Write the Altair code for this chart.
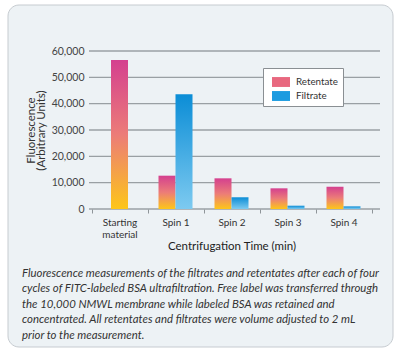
import altair as alt
import pandas as pd

categories = ["Starting material", "Spin 1", "Spin 2", "Spin 3", "Spin 4"]
series = ["Retentate", "Filtrate"]
retentate = [56600, 12650, 11650, 7850, 8450]
filtrate = [None, 43550, 4450, 1250, 1000]
y_ticks = [0, 10000, 20000, 30000, 40000, 50000, 60000]
caption_lines = [
    "Fluorescence measurements of the filtrates and retentates after each of four",
    "cycles of FITC-labeled BSA ultrafiltration. Free label was transferred through",
    "the 10,000 NMWL membrane while labeled BSA was retained and",
    "concentrated. All retentates and filtrates were volume adjusted to 2 mL",
    "prior to the measurement.",
]

rows = []
for c, r, f in zip(categories, retentate, filtrate):
    rows.append({"Category": c, "Series": "Retentate", "Value": r})
    if f is not None:
        rows.append({"Category": c, "Series": "Filtrate", "Value": f})
df = pd.DataFrame(rows)
grid_df = pd.DataFrame({"tick": y_ticks})

FONT = "Lato"
Y_TITLE = ["Fluorescence", "(Arbitrary Units)"]

grad_r = alt.LinearGradient(
    gradient="linear", x1=0, y1=0, x2=0, y2=1,
    stops=[alt.GradientStop(offset=0, color="#d4408f"),
           alt.GradientStop(offset=0.5, color="#ec7c78"),
           alt.GradientStop(offset=1, color="#fdc619")])
grad_f = alt.LinearGradient(
    gradient="linear", x1=0, y1=0, x2=0, y2=1,
    stops=[alt.GradientStop(offset=0, color="#0b8dd6"),
           alt.GradientStop(offset=1, color="#7dcaf0")])

y_scale = alt.Scale(domain=[y_ticks[0], y_ticks[-1]], nice=False)

x_enc = alt.X(
    "Category:N", sort=categories, title="Centrifugation Time (min)",
    scale=alt.Scale(domain=categories, range=[2.5, 282.5], paddingInner=0, paddingOuter=0),
    axis=alt.Axis(domain=False, ticks=True, tickBand="extent", tickSize=4, tickColor="#8f9599",
                  labelAngle=0, labelFont=FONT, labelFontSize=10, labelColor="#333",
                  labelPadding=4, labelLineHeight=12, zindex=1,
                  labelExpr="datum.label == 'Starting material' ? ['Starting', 'material'] : datum.label",
                  titleFont=FONT, titleFontSize=11.5, titleFontWeight="normal", titleColor="#222",
                  titlePadding=1))
y_axis = alt.Axis(tickCount=6, format=",d", domain=False, ticks=False, grid=False, zindex=1,
                  labelOverlap=False, labelFont=FONT, labelFontSize=10.5,
                  labelColor="#444", labelPadding=5, titleFont=FONT, titleFontSize=11.5,
                  titleFontWeight="normal", titleColor="#333", titlePadding=5,
                  titleLineHeight=10)
y_main = alt.Y("Value:Q", title=Y_TITLE, scale=y_scale, axis=y_axis)
xoff = alt.XOffset("Series:N", scale=alt.Scale(domain=series, paddingInner=0, paddingOuter=0.647))

card = alt.Chart(pd.DataFrame({"k": [0]})).mark_rect(
    fill="#edf2f5", stroke="#c6cbd0", strokeWidth=1, cornerRadius=11
).encode(x=alt.value(-81), x2=alt.value(304), y=alt.value(-46), y2=alt.value(296))

grid = alt.Chart(grid_df).mark_rule(color="#9aa0a4", strokeWidth=1.3).encode(
    y=alt.Y("tick:Q", title=Y_TITLE, scale=y_scale, axis=y_axis))

base = alt.Chart(df)

start = base.transform_filter(alt.datum.Category == "Starting material").mark_bar(
    fill=grad_r, size=17).encode(x=x_enc, y=y_main)
spin_r = base.transform_filter(
    (alt.datum.Category != "Starting material") & (alt.datum.Series == "Retentate")
).mark_bar(fill=grad_r).encode(x=x_enc, xOffset=xoff, y=y_main)
spin_f = base.transform_filter(alt.datum.Series == "Filtrate").mark_bar(
    fill=grad_f).encode(x=x_enc, xOffset=xoff, y=y_main)

legend_layer = base.transform_filter(alt.datum.Category != "Starting material").mark_bar().encode(
    x=x_enc, xOffset=xoff, y=y_main, y2=alt.Y2("Value:Q"),
    color=alt.Color("Series:N", scale=alt.Scale(domain=series, range=["#e8687f", "#1c9be0"]),
                    legend=alt.Legend(orient="none", legendX=174, legendY=17, title=None,
                                      padding=5, strokeColor="#8a8f93", fillColor="white",
                                      symbolType="M-1,-0.55H1V0.55H-1Z", symbolSize=324,
                                      symbolStrokeWidth=0, symbolOffset=4, labelFont=FONT,
                                      labelFontSize=9.8, labelColor="#333", rowPadding=-3,
                                      labelOffset=6)))

chart = alt.layer(card, grid, start, spin_r, spin_f, legend_layer).properties(
    width=291, height=158,
    autosize=alt.AutoSizeParams(type="none"),
    padding={"left": 89, "top": 51, "right": 18, "bottom": 147},
    background="white",
    title=alt.TitleParams(text=caption_lines, orient="bottom", anchor="start", frame="group",
                          dx=-67, offset=-80, font=FONT, fontSize=11.4, fontStyle="italic",
                          fontWeight="normal", color="#333", lineHeight=15.5),
).configure_view(stroke=None)

chart.save("out.html", embed_options={"renderer": "svg", "actions": False})
